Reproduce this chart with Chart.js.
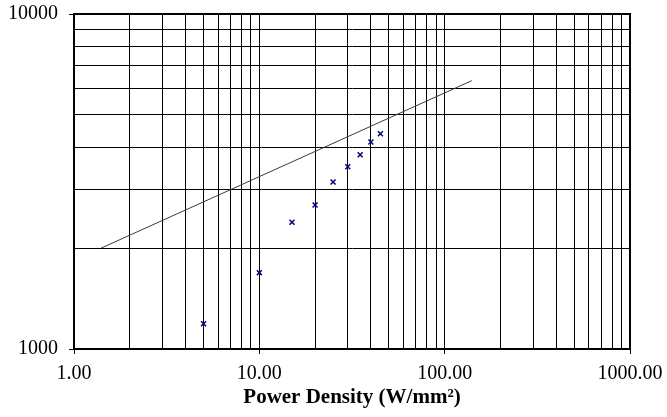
<!DOCTYPE html>
<html>
<head>
<meta charset="utf-8">
<script src="https://cdn.jsdelivr.net/npm/chart.js@4"></script>
<style>
  html, body { margin: 0; padding: 0; background: #fff; }
  #wrap { width: 667px; height: 417px; }
</style>
</head>
<body>
<div id="wrap"><canvas id="chart" width="667" height="417"></canvas></div>
<script>
// measured points
const powerDensity = [5, 10, 15, 20, 25, 30, 35, 40, 45];
const measured = [1190, 1690, 2390, 2690, 3150, 3500, 3800, 4150, 4390];

// reference line (two ends)
const lineX = [1.4, 140];
const lineY = [2000, 6325];

// grid ticks and the ones that carry a label
const xGrid = [1, 2, 3, 4, 5, 6, 7, 8, 9, 10, 20, 30, 40, 50, 60, 70, 80, 90,
               100, 200, 300, 400, 500, 600, 700, 800, 900, 1000];
const yGrid = [1000, 2000, 3000, 4000, 5000, 6000, 7000, 8000, 9000, 10000];
const xLabelled = [1, 10, 100, 1000];
const yLabelled = [1000, 10000];

const isLabelled = (list, v) => list.some(t => Math.abs(t - v) < 1e-6 * t);

const frame = {
    id: 'frame',
    afterDatasetsDraw(chart) {
        const a = chart.chartArea;
        const c = chart.ctx;
        c.save();
        c.strokeStyle = '#000';
        c.lineWidth = 2;
        c.strokeRect(a.left, a.top, a.right - a.left, a.bottom - a.top);
        c.restore();
    }
};

const ctx = document.getElementById('chart').getContext('2d');

new Chart(ctx, {
    type: 'scatter',
    data: {
        datasets: [
            {
                label: 'line',
                data: lineX.map((x, i) => ({ x: x, y: lineY[i] })),
                showLine: true,
                borderColor: '#3a3a3a',
                borderWidth: 1,
                pointRadius: 0,
                order: 2
            },
            {
                label: 'measured',
                data: powerDensity.map((x, i) => ({ x: x, y: measured[i] })),
                pointStyle: 'crossRot',
                pointRadius: 3.5,
                borderColor: '#000080',
                borderWidth: 1.5,
                order: 1
            }
        ]
    },
    options: {
        responsive: false,
        animation: false,
        layout: { padding: { top: 14, right: 37, left: 0, bottom: 0 } },
        plugins: {
            legend: { display: false },
            tooltip: { enabled: false }
        },
        scales: {
            x: {
                type: 'logarithmic',
                min: 1,
                max: 1000,
                afterBuildTicks: s => { s.ticks = xGrid.map(v => ({ value: v })); },
                afterFit: s => { s.height = 68; s.paddingLeft = 0; s.paddingRight = 0; },
                grid: {
                    color: '#000',
                    lineWidth: 1,
                    tickLength: 5,
                    tickColor: c => isLabelled(xLabelled, c.tick.value) ? '#000' : 'rgba(0,0,0,0)'
                },
                border: { color: '#000', width: 2 },
                ticks: {
                    autoSkip: false,
                    maxRotation: 0,
                    padding: 8,
                    color: '#000',
                    font: { family: 'Liberation Serif', size: 20 },
                    callback: v => isLabelled(xLabelled, v) ? Number(v).toFixed(2) : ''
                },
                title: {
                    display: true,
                    text: 'Power Density (W/mm²)',
                    color: '#000',
                    font: { family: 'Liberation Serif', size: 21, weight: 'bold' },
                    padding: { top: 0, bottom: 7 }
                }
            },
            y: {
                type: 'logarithmic',
                min: 1000,
                max: 10000,
                afterBuildTicks: s => { s.ticks = yGrid.map(v => ({ value: v })); },
                afterFit: s => { s.width = 74; s.paddingTop = 0; s.paddingBottom = 0; },
                grid: {
                    color: '#000',
                    lineWidth: 1,
                    tickLength: 5,
                    tickColor: c => isLabelled(yLabelled, c.tick.value) ? '#000' : 'rgba(0,0,0,0)'
                },
                border: { color: '#000', width: 2 },
                ticks: {
                    autoSkip: false,
                    padding: 11,
                    color: '#000',
                    font: { family: 'Liberation Serif', size: 20 },
                    callback: v => isLabelled(yLabelled, v) ? String(v) : ''
                }
            }
        }
    },
    plugins: [frame]
});
</script>
</body>
</html>
